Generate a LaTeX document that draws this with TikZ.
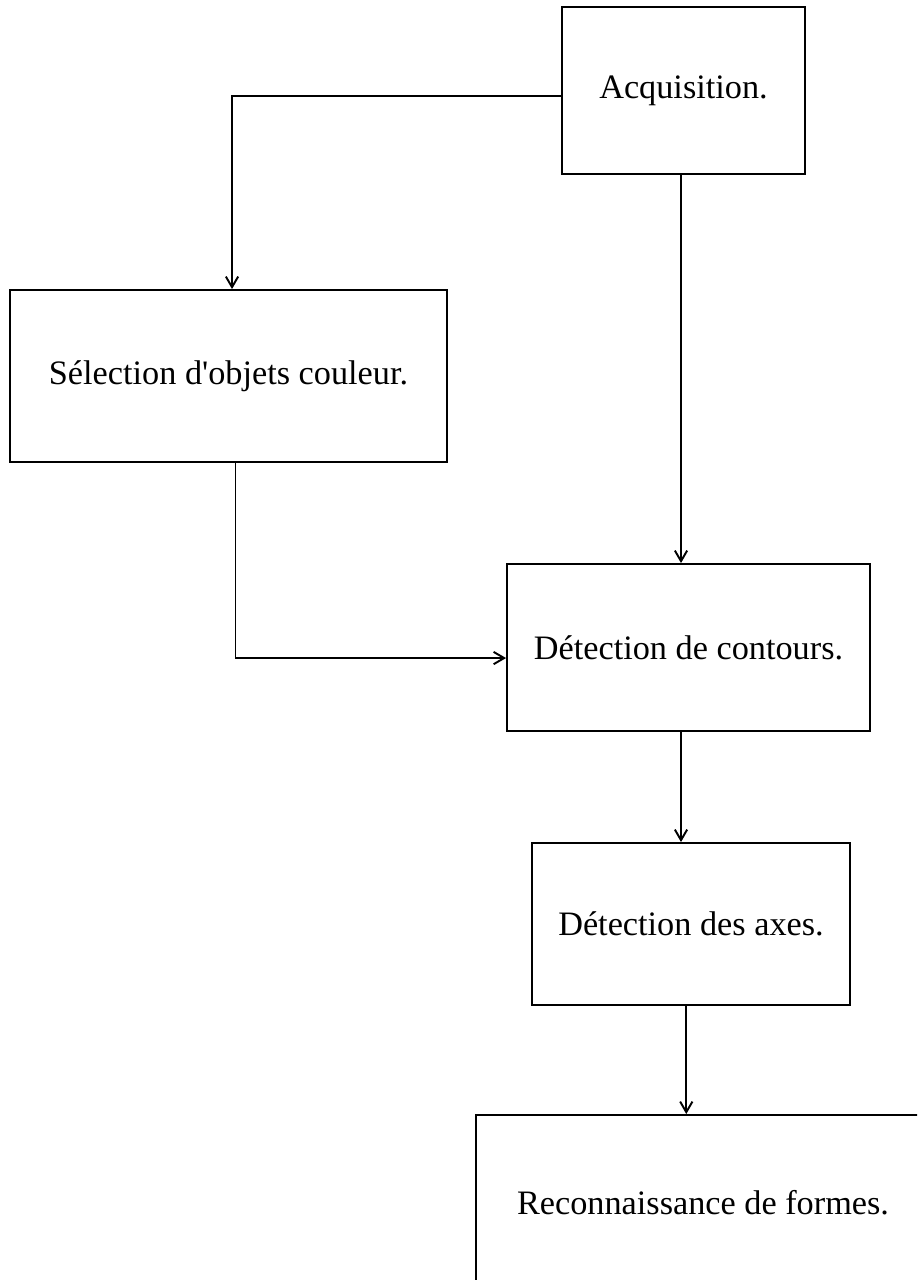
\documentclass[tikz,border=0pt]{standalone}
\usepackage{fontspec}
\setmainfont{Liberation Serif}
\usepackage{tikz}
\usetikzlibrary{positioning,arrows.meta,calc}

\begin{document}
\begin{tikzpicture}[
  x=0.02cm, y=-0.02cm,
  every node/.style={font=\fontsize{19.5}{23}\selectfont},
  etape/.style={draw, line width=1.1pt, inner sep=0pt, align=center},
  arr/.style={-{Straight Barb[length=6pt,width=7pt]}, line width=1.1pt}
]
\clip (0,0) rectangle (917,1280);

%% --- Blocs ----------------------------------------------------
\node[etape, minimum width=4.86cm, minimum height=3.34cm] (acq)
     at (683.5,90.5) {Acquisition.};

\node[etape, minimum width=8.74cm, minimum height=3.44cm] (sel)
     at (228.5,376) {S\'election d\textquotesingle objets couleur.};

\node[etape, minimum width=7.26cm, minimum height=3.34cm] (cont)
     at (688.5,647.5) {D\'etection de contours.};

\node[etape, minimum width=6.36cm, minimum height=3.24cm] (axes)
     at (691,924) {D\'etection des axes.};

\node[etape, minimum width=9.08cm, minimum height=3.5cm] (reco)
     at (703,1202.5) {Reconnaissance de formes.};

%% --- Liaisons -------------------------------------------------
\coordinate (axe) at (681,0);

\draw[arr] ([yshift=-3pt]acq.west) -| ([xshift=2pt]sel.north);
\draw[arr] (acq.south -| axe) -- (axe |- cont.north);
\draw[arr] ([xshift=4pt]sel.south) |- ([yshift=-6pt]cont.west);
\draw[arr] (cont.south -| axe) -- (axe |- axes.north);
\draw[arr] ([xshift=3pt]axes.south -| axe) -- ([xshift=3pt]axe |- reco.north);

\end{tikzpicture}
\end{document}
